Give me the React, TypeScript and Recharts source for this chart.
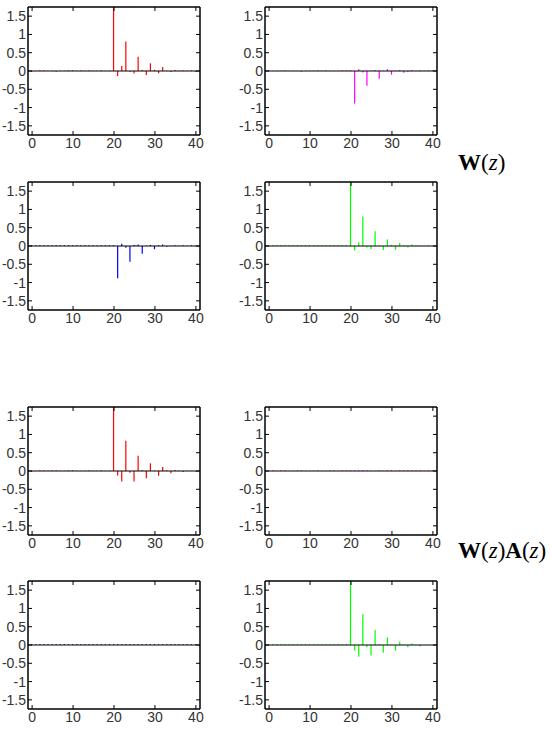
import React from 'react';
import { ComposedChart, Bar, XAxis, YAxis, ReferenceLine } from 'recharts';

// sample index
const lags = [
  0, 1, 2, 3, 4, 5, 6, 7, 8, 9, 10, 11, 12, 13, 14, 15, 16, 17, 18, 19, 20,
  21, 22, 23, 24, 25, 26, 27, 28, 29, 30, 31, 32, 33, 34, 35, 36, 37, 38, 39, 40,
];
const xTicks = [0, 10, 20, 30, 40];
const yTicks = [-1.5, -1, -0.5, 0, 0.5, 1, 1.5];

// W(z) impulse responses
const w11 = [
  -0.02, 0.01, 0.02, 0.02, 0.01, 0.01, -0.02, 0.01, 0.01, 0.02, 0.02, 0.01, 0.02, 0.01, 0.02, 0.01, 0.01, 0.02, 0.01, 0.01,
  1.75, -0.14, 0.14, 0.81, -0.02, -0.07, 0.39, 0.03, -0.11, 0.21, 0.03, -0.06, 0.11, 0.01, -0.03, 0.03, 0.01, 0.02, 0.01, 0.02, -0.02,
];
const w12 = [
  0.02, 0.01, 0.01, 0.01, 0.02, 0.01, 0.01, 0.01, -0.02, 0.01, 0.01, 0.01, 0.02, 0.01, 0.02, 0.01, 0.01, 0.01, 0.02, 0.02,
  0.02, -0.89, 0.05, -0.04, -0.4, 0.01, 0.03, -0.21, 0.01, 0.05, -0.1, 0.01, 0.03, -0.05, -0.02, 0.03, 0.01, 0.02, 0.01, 0.02, 0.02,
];
const w21 = [
  0.02, 0.02, 0.02, 0.02, 0.02, 0.02, 0.02, 0.02, 0.02, 0.02, 0.02, 0.02, 0.02, 0.02, 0.02, 0.02, 0.02, 0.02, 0.02, 0.02,
  0.02, -0.88, 0.06, -0.05, -0.43, 0.03, 0.04, -0.21, 0.01, 0.03, -0.09, 0.02, 0.04, -0.02, 0.01, 0.02, 0.01, 0.02, 0.01, 0.02, 0.01,
];
const w22 = [
  0.03, 0.03, 0.03, 0.03, 0.03, 0.03, 0.03, 0.03, 0.03, 0.03, 0.03, 0.03, 0.03, 0.03, 0.03, 0.03, 0.03, 0.03, 0.03, 0.03,
  1.75, -0.12, 0.1, 0.81, -0.04, -0.08, 0.4, 0.01, -0.11, 0.18, 0.03, -0.1, 0.08, 0.02, -0.04, 0.04, 0.02, 0.01, 0.01, 0.02, 0.01,
];

// W(z)A(z) global responses
const g11 = [
  -0.02, 0.01, 0.02, 0.02, 0.01, 0.02, 0.02, 0.01, 0.01, 0.02, 0.02, 0.01, 0.01, 0.01, 0.02, 0.01, 0.01, 0.02, 0.01, 0.01,
  1.75, -0.12, -0.29, 0.83, -0.05, -0.29, 0.42, 0.02, -0.2, 0.21, 0.01, -0.13, 0.11, 0.02, -0.06, 0.03, 0.01, -0.03, 0.01, 0.01, -0.01,
];
const g12 = [
  0.01, 0.02, 0.01, 0.02, 0.02, 0.01, 0.01, 0.02, 0.02, 0.01, 0.01, 0.01, 0.02, 0.01, 0.01, 0.02, 0.02, 0.01, 0.02, 0.02,
  0.02, 0.02, 0.02, 0.02, 0.02, 0.01, 0.01, 0.02, 0.01, 0.02, 0.02, 0.01, 0.02, 0.02, 0.02, 0.02, 0.02, 0.02, 0.01, 0.02, 0.02,
];
const g21 = [
  0.02, 0.02, 0.02, 0.02, 0.02, 0.02, 0.02, 0.02, 0.02, 0.02, 0.02, 0.02, 0.02, 0.02, 0.02, 0.02, 0.02, 0.02, 0.02, 0.02,
  0.02, 0.02, 0.02, 0.02, 0.02, 0.02, 0.02, 0.02, 0.02, 0.02, 0.02, 0.02, 0.02, 0.02, 0.02, 0.02, 0.02, 0.02, 0.02, 0.02, 0.02,
];
const g22 = [
  0.03, 0.03, 0.03, 0.03, 0.03, 0.03, 0.03, 0.03, 0.03, 0.03, 0.03, 0.03, 0.03, 0.03, 0.03, 0.03, 0.03, 0.03, 0.03, 0.03,
  1.75, -0.15, -0.32, 0.84, -0.06, -0.29, 0.41, 0.02, -0.21, 0.21, 0.01, -0.15, 0.09, 0.01, -0.06, 0.04, 0.01, -0.04, 0.01, 0.01, 0.01,
];

const FONT = '"Liberation Sans", Arial, sans-serif';
const TXT = '#333';

const LeftTick = (p: any) => (
  <g>
    <text x={p.x} y={p.y} dy={5} textAnchor="end" fontSize={14} fontFamily={FONT} fill={TXT}>
      {String(p.payload.value)}
    </text>
    <line x1={p.x + 2} x2={p.x + 6} y1={p.y} y2={p.y} stroke="#000" />
  </g>
);
const BottomTick = (p: any) => (
  <g>
    <text x={p.x} y={p.y} dy={11} textAnchor="middle" fontSize={14} fontFamily={FONT} fill={TXT}>
      {String(p.payload.value)}
    </text>
    <line x1={p.x} x2={p.x} y1={p.y - 2} y2={p.y - 6} stroke="#000" />
  </g>
);
const TopTick = (p: any) => <line x1={p.x} x2={p.x} y1={p.y} y2={p.y + 4} stroke="#000" />;
const RightTick = (p: any) => <line x1={p.x - 4} x2={p.x} y1={p.y} y2={p.y} stroke="#000" />;

const axisLine = { stroke: '#000', strokeWidth: 1.5 };

function StemPanel({ values, color, left, top, padRight }: { values: number[]; color: string; left: number; top: number; padRight: number }) {
  const data = lags.map((n, i) => ({ n, v: values[i] }));
  return (
    <div style={{ position: 'absolute', left, top }}>
      <ComposedChart width={201 + padRight} height={151} data={data} margin={{ top: 0, right: padRight, bottom: 0, left: 0 }}>
        <XAxis xAxisId="b" dataKey="n" type="number" domain={[-1, 41]} ticks={xTicks} allowDataOverflow interval={0}
          orientation="bottom" height={22} tickSize={0} tickMargin={2} tickLine={false} axisLine={axisLine} tick={BottomTick} />
        <XAxis xAxisId="t" dataKey="n" type="number" domain={[-1, 41]} ticks={xTicks} allowDataOverflow interval={0}
          orientation="top" height={1} tickSize={0} tickMargin={0} tickLine={false} axisLine={axisLine} tick={TopTick} />
        <YAxis yAxisId="l" type="number" domain={[-1.75, 1.75]} ticks={yTicks} allowDataOverflow interval={0}
          orientation="left" width={28} tickSize={0} tickMargin={2} tickLine={false} axisLine={axisLine} tick={LeftTick} />
        <YAxis yAxisId="r" type="number" domain={[-1.75, 1.75]} ticks={yTicks} allowDataOverflow interval={0}
          orientation="right" width={1} tickSize={0} tickMargin={0} tickLine={false} axisLine={axisLine} tick={RightTick} />
        <Bar xAxisId="b" yAxisId="l" dataKey="v" fill={color} barSize={1.2} isAnimationActive={false} />
        <ReferenceLine xAxisId="b" yAxisId="l" y={0} stroke="#000" strokeWidth={1.2} />
      </ComposedChart>
    </div>
  );
}

const labelStyle: React.CSSProperties = {
  position: 'absolute',
  fontFamily: '"Liberation Serif", "Times New Roman", serif',
  fontSize: 23,
  lineHeight: 1,
  color: '#000',
  whiteSpace: 'nowrap',
};

export default function App() {
  return (
    <div style={{ position: 'absolute', left: 0, top: 0, width: 554, height: 729, background: '#fff' }}>
      <StemPanel values={w11} color="#ff0000" left={0} top={6} padRight={14} />
      <StemPanel values={w12} color="#ff00ff" left={237} top={6} padRight={3} />
      <StemPanel values={w21} color="#0000ff" left={0} top={181} padRight={14} />
      <StemPanel values={w22} color="#00ff00" left={237} top={181} padRight={3} />
      <StemPanel values={g11} color="#ff0000" left={0} top={406} padRight={14} />
      <StemPanel values={g12} color="#ff00ff" left={237} top={406} padRight={3} />
      <StemPanel values={g21} color="#0000ff" left={0} top={580} padRight={14} />
      <StemPanel values={g22} color="#00ff00" left={237} top={580} padRight={3} />
      <div style={{ ...labelStyle, left: 458, top: 151 }}>
        <b>W</b>(<i>z</i>)
      </div>
      <div style={{ ...labelStyle, left: 458, top: 539 }}>
        <b>W</b>(<i>z</i>)<b>A</b>(<i>z</i>)
      </div>
    </div>
  );
}
